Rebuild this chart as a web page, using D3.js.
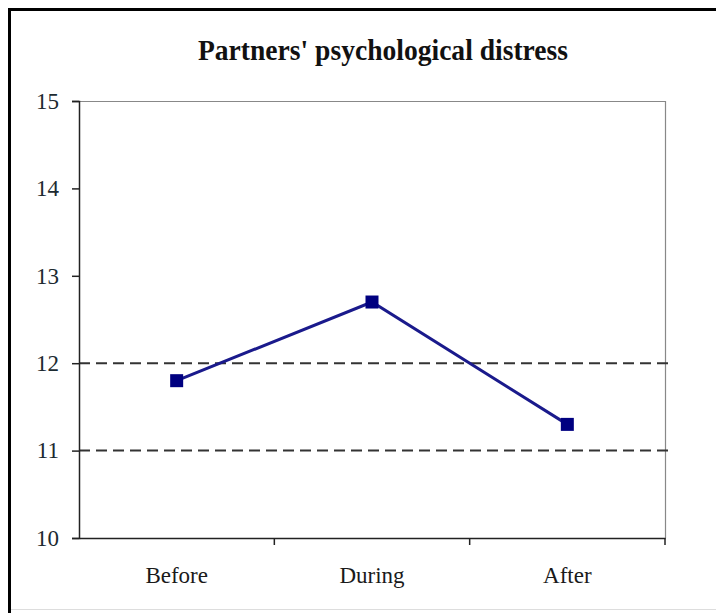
<!DOCTYPE html>
<html>
<head>
<meta charset="utf-8">
<script src="https://cdnjs.cloudflare.com/ajax/libs/d3/7.8.5/d3.min.js"></script>
<style>
  body { margin: 0; background: #fff; }
  svg text { font-family: "Liberation Serif", "Times New Roman", serif; }
</style>
</head>
<body>
<svg width="716" height="613"></svg>
<script>
// Data
var phases = ['Before', 'During', 'After'];
var distress = [11.8, 12.7, 11.3];
var yTicks = [10, 11, 12, 13, 14, 15];
var refLines = [11, 12];
var chartTitle = "Partners' psychological distress";

var svg = d3.select('svg');
var svgWidth = +svg.attr('width');
var svgHeight = +svg.attr('height');

var padding = {t: 101, r: 51, b: 75, l: 79};
var chartWidth = svgWidth - padding.l - padding.r;
var chartHeight = svgHeight - padding.t - padding.b;

// outer frame (left + top dark, bottom faint)
svg.append('line').attr('x1', 9.5).attr('x2', 9.5).attr('y1', 8).attr('y2', 613)
    .attr('stroke', '#000').attr('stroke-width', 3);
svg.append('line').attr('x1', 8).attr('x2', 716).attr('y1', 9.5).attr('y2', 9.5)
    .attr('stroke', '#000').attr('stroke-width', 3);
svg.append('line').attr('x1', 11).attr('x2', 716).attr('y1', 609.5).attr('y2', 609.5)
    .attr('stroke', '#ddd').attr('stroke-width', 1);

svg.append('text')
    .attr('x', 383)
    .attr('y', 60)
    .attr('text-anchor', 'middle')
    .attr('textLength', 370)
    .attr('lengthAdjust', 'spacingAndGlyphs')
    .style('font-size', '29px')
    .style('font-weight', 'bold')
    .attr('fill', '#111')
    .text(chartTitle);

var chartG = svg.append('g')
    .attr('transform', 'translate(' + [padding.l, padding.t] + ')');

var xScale = d3.scaleBand().domain(phases).range([0, chartWidth]);
var yScale = d3.scaleLinear().domain([10, 15]).range([chartHeight, 0]);

// plot frame top / right
chartG.append('path')
    .attr('d', 'M0,0.5H' + (chartWidth + 0.5) + 'V' + chartHeight)
    .attr('fill', 'none')
    .attr('stroke', '#888')
    .attr('stroke-width', 1.2);

// dashed reference lines
chartG.selectAll('.ref')
    .data(refLines)
    .enter().append('line')
    .attr('class', 'ref')
    .attr('x1', 0)
    .attr('x2', chartWidth + 3)
    .attr('y1', function(d){ return yScale(d); })
    .attr('y2', function(d){ return yScale(d); })
    .attr('stroke', '#333')
    .attr('stroke-width', 2)
    .attr('stroke-dasharray', '11,6');

// y axis
var yAxis = chartG.append('g')
    .call(d3.axisLeft(yScale).tickValues(yTicks).tickSize(7).tickPadding(13).tickFormat(d3.format('d')));
yAxis.select('.domain').attr('stroke', '#222').attr('stroke-width', 1.5);
yAxis.selectAll('.tick line').attr('stroke', '#222').attr('stroke-width', 1.5);
yAxis.selectAll('.tick text').style('font-size', '23px').attr('fill', '#1c2a30');

// x axis
var xAxis = chartG.append('g')
    .attr('transform', 'translate(0,' + chartHeight + ')')
    .call(d3.axisBottom(xScale).tickSize(0).tickPadding(29));
xAxis.select('.domain').attr('stroke', '#222').attr('stroke-width', 1.5);
xAxis.selectAll('.tick text').style('font-size', '23px').attr('fill', '#1a1a1a');

// x tick marks between categories
var bounds = phases.map(function(p){ return xScale(p); }).concat([chartWidth]);
xAxis.selectAll('.bound')
    .data(bounds.slice(1))
    .enter().append('line')
    .attr('class', 'bound')
    .attr('x1', function(d){ return d; })
    .attr('x2', function(d){ return d; })
    .attr('y1', 0)
    .attr('y2', 7)
    .attr('stroke', '#222')
    .attr('stroke-width', 1.5);

// series
var pts = phases.map(function(p, i){ return {phase: p, value: distress[i]}; });
var line = d3.line()
    .x(function(d){ return xScale(d.phase) + xScale.bandwidth() / 2; })
    .y(function(d){ return yScale(d.value); });

chartG.append('path')
    .datum(pts)
    .attr('d', line)
    .attr('fill', 'none')
    .attr('stroke', '#1a1a8c')
    .attr('stroke-width', 3);

var ms = 13;
chartG.selectAll('.marker')
    .data(pts)
    .enter().append('rect')
    .attr('class', 'marker')
    .attr('x', function(d){ return xScale(d.phase) + xScale.bandwidth() / 2 - ms / 2; })
    .attr('y', function(d){ return yScale(d.value) - ms / 2; })
    .attr('width', ms)
    .attr('height', ms)
    .attr('fill', '#000080');
</script>
</body>
</html>
